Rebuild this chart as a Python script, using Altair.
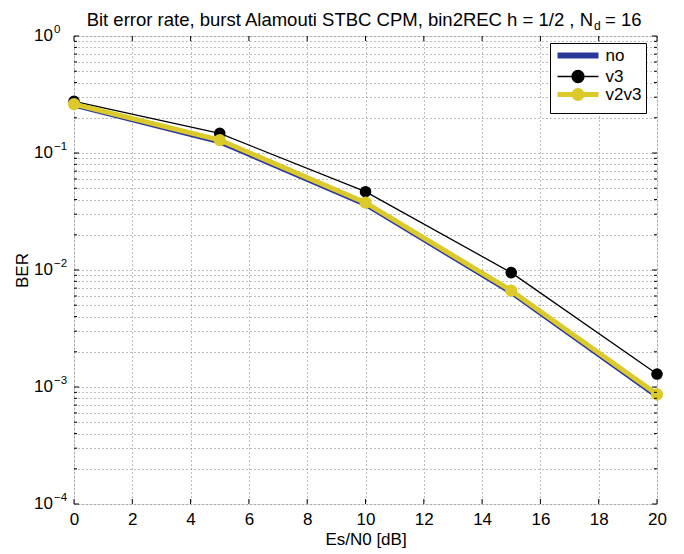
import altair as alt
import pandas as pd

# ---- data ----
snr = [0, 5, 10, 15, 20]
ber_no = [0.255, 0.124, 0.0362, 0.0064, 0.00083]
ber_v3 = [0.276, 0.147, 0.0467, 0.0095, 0.00129]
ber_v2v3 = [0.262, 0.129, 0.0376, 0.00665, 0.000866]

series_names = ["no", "v3", "v2v3"]
series_colors = ["#29389a", "#000000", "#dbca2a"]
series_widths = [6, 1.3, 5]

x_ticks = [0, 2, 4, 6, 8, 10, 12, 14, 16, 18, 20]
decades = [1, 0.1, 0.01, 0.001, 0.0001]
decade_exps = ["0", "\u22121", "\u22122", "\u22123", "\u22124"]
minors = [k * 10.0 ** e for e in range(-4, 0) for k in range(2, 10)]

FONT = "Liberation Sans"
W, H = 583, 468

rows = []
for name, vals in zip(series_names, [ber_no, ber_v3, ber_v2v3]):
    for x, y in zip(snr, vals):
        rows.append({"series": name, "snr": x, "ber": y})
df = pd.DataFrame(rows)

xscale = alt.Scale(domain=[0, 20], nice=False, zero=False)
yscale = alt.Scale(type="log", domain=[0.0001, 1], nice=False)

xenc = alt.X(
    "snr:Q", scale=xscale,
    axis=alt.Axis(values=x_ticks, grid=True, gridDash=[1, 3], gridColor="#7a7a7a",
                  ticks=False, domain=False, labelFontSize=17, labelFont=FONT,
                  labelColor="black", labelPadding=7, labelFlush=False,
                  title="Es/N0 [dB]", titleFont=FONT, titleFontSize=17,
                  titleFontWeight="normal", titleColor="black", titlePadding=4),
)
yenc = alt.Y(
    "ber:Q", scale=yscale,
    axis=alt.Axis(values=sorted(decades + minors), grid=True, gridDash=[1, 3],
                  gridColor="#7a7a7a", ticks=False, domain=False, labels=False,
                  title="BER", titleFont=FONT, titleFontSize=17, titleFontWeight="normal",
                  titleColor="black", titleX=-52, titleY=H / 2, titleAngle=270,
                  titleBaseline="middle", titleAlign="center"),
)

def series(name):
    return alt.Chart(df).transform_filter(alt.datum.series == name)

c = dict(zip(series_names, series_colors))

line_no = series("no").mark_line(color=c["no"], strokeWidth=4.5).encode(x=xenc, y=yenc)
line_v3 = series("v3").mark_line(color=c["v3"], strokeWidth=1.3).encode(x=xenc, y=yenc)
pts_v3 = series("v3").mark_circle(color=c["v3"], size=135, opacity=1).encode(x=xenc, y=yenc)
line_v2v3 = series("v2v3").mark_line(color=c["v2v3"], strokeWidth=5).encode(x=xenc, y=yenc)
pts_v2v3 = series("v2v3").mark_circle(color=c["v2v3"], size=150, opacity=1).encode(x=xenc, y=yenc)

# legend (built from a transparent layer, symbol = line + marker)
path_line = "M-4.1,0L4.1,0"
path_v3 = "M-4.1,0L4.1,0M1.2,0A1.2,1.2,0,1,1,-1.2,0A1.2,1.2,0,1,1,1.2,0Z"
path_v2v3 = "M-4.1,0L4.1,0M0.8,0A0.8,0.8,0,1,1,-0.8,0A0.8,0.8,0,1,1,0.8,0Z"
leg = alt.Legend(orient="none", legendX=476, legendY=7, padding=4, strokeColor="black",
                 fillColor="white", symbolSize=100, symbolOffset=15.5, labelOffset=19,
                 labelFontSize=17, labelFont=FONT, labelColor="black", rowPadding=-9,
                 title=None, symbolOpacity=1, cornerRadius=0, labelLimit=200)
legend_layer = alt.Chart(df).mark_point(opacity=0, filled=True).encode(
    x=xenc, y=yenc,
    shape=alt.Shape("series:N", scale=alt.Scale(domain=series_names,
                    range=[path_line, path_v3, path_v2v3]), legend=leg),
    fill=alt.Fill("series:N", scale=alt.Scale(domain=series_names, range=series_colors), legend=leg),
    stroke=alt.Stroke("series:N", scale=alt.Scale(domain=series_names, range=series_colors), legend=leg),
    strokeWidth=alt.StrokeWidth("series:N", scale=alt.Scale(type="ordinal", domain=series_names,
                                range=series_widths), legend=leg),
)

# inward ticks on all four sides
xt = pd.DataFrame({"snr": x_ticks})
yt = pd.DataFrame({"ber": decades + minors,
                   "len": [5] * len(decades) + [3] * len(minors)})
tick_b = alt.Chart(xt).mark_rule(color="black").encode(x=xenc, y=alt.value(H), y2=alt.value(H - 5))
tick_t = alt.Chart(xt).mark_rule(color="black").encode(x=xenc, y=alt.value(0), y2=alt.value(5))
tick_lmaj = alt.Chart(yt).transform_filter("datum.len == 5").mark_rule(color="black").encode(
    y=yenc, x=alt.value(0), x2=alt.value(5))
tick_lmin = alt.Chart(yt).transform_filter("datum.len == 3").mark_rule(color="black").encode(
    y=yenc, x=alt.value(0), x2=alt.value(3))
tick_rmaj = alt.Chart(yt).transform_filter("datum.len == 5").mark_rule(color="black").encode(
    y=yenc, x=alt.value(W), x2=alt.value(W - 5))
tick_rmin = alt.Chart(yt).transform_filter("datum.len == 3").mark_rule(color="black").encode(
    y=yenc, x=alt.value(W), x2=alt.value(W - 3))

# y tick labels 10^n
yl = pd.DataFrame({"ber": decades, "base": ["10"] * len(decades), "exp": decade_exps})
ylab_base = alt.Chart(yl).mark_text(align="right", baseline="middle", fontSize=17, font=FONT,
                                    color="black").encode(y=yenc, x=alt.value(-21), text="base:N")
ylab_exp = alt.Chart(yl).mark_text(align="left", baseline="middle", fontSize=11.5, font=FONT,
                                   color="black", dy=-6).encode(y=yenc, x=alt.value(-20), text="exp:N")

# title with subscript
one = pd.DataFrame({"a": [0]})
title_main = alt.Chart(one).mark_text(align="right", baseline="alphabetic", fontSize=18.5, font=FONT,
                                      color="black").encode(
    x=alt.value(519), y=alt.value(-10),
    text=alt.value("Bit error rate, burst Alamouti STBC CPM, bin2REC h = 1/2 , N"))
title_sub = alt.Chart(one).mark_text(align="left", baseline="alphabetic", fontSize=12, font=FONT,
                                     color="black").encode(
    x=alt.value(520), y=alt.value(-6), text=alt.value("d"))
title_end = alt.Chart(one).mark_text(align="left", baseline="alphabetic", fontSize=18.5, font=FONT,
                                     color="black").encode(
    x=alt.value(531), y=alt.value(-10), text=alt.value("= 16"))

chart = alt.layer(
    line_no, line_v3, pts_v3, line_v2v3, pts_v2v3, legend_layer,
    tick_b, tick_t, tick_lmaj, tick_lmin, tick_rmaj, tick_rmin,
    ylab_base, ylab_exp, title_main, title_sub, title_end,
).properties(
    width=W, height=H,
    autosize=alt.AutoSizeParams(type="none"),
    padding={"left": 66, "top": 28, "right": 10, "bottom": 48},
).configure_view(stroke="black", strokeWidth=1).configure(background="white")

chart.save("out.html", embed_options={"renderer": "svg", "actions": False})
